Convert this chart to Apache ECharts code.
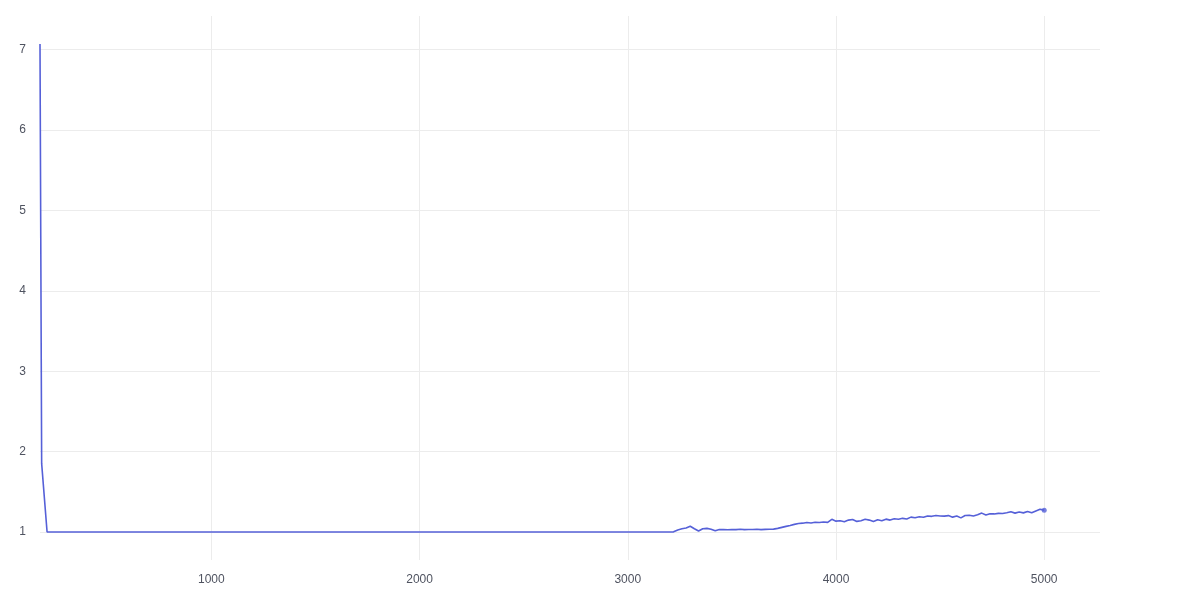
<!DOCTYPE html>
<html>
<head>
<meta charset="utf-8">
<script src="https://cdn.jsdelivr.net/npm/echarts@6/dist/echarts.min.js"></script>
<style>html,body{margin:0;padding:0;background:#fff}#c{width:1200px;height:600px}</style>
</head>
<body>
<div id="c"></div>
<script>
// Tick labels
var xTicks = [1000, 2000, 3000, 4000, 5000];
var yTicks = [1, 2, 3, 4, 5, 6, 7];
// Axis ranges (with padding as in the reference)
var xRange = [177, 5268];
var yRange = [0.652, 7.417];

// Series data
var xs = [177, 185, 211, 3200, 3220, 3240, 3260, 3280, 3300, 3320, 3340, 3360, 3380, 3400, 3420, 3440, 3460, 3480, 3500,
  3520, 3540, 3560, 3580, 3600, 3620, 3640, 3660, 3680, 3700, 3720, 3740, 3760, 3780, 3800, 3820, 3840, 3860, 3880, 3900,
  3920, 3940, 3960, 3980, 4000, 4020, 4040, 4060, 4080, 4100, 4120, 4140, 4160, 4180, 4200, 4220, 4240, 4260, 4280, 4300,
  4320, 4340, 4360, 4380, 4400, 4420, 4440, 4460, 4480, 4500, 4520, 4540, 4560, 4580, 4600, 4620, 4640, 4660, 4680, 4700,
  4720, 4740, 4760, 4780, 4800, 4820, 4840, 4860, 4880, 4900, 4920, 4940, 4960, 4980, 5000];
var ys = [7.07, 1.85, 1.0, 1.000, 1.002, 1.025, 1.040, 1.050, 1.072, 1.040, 1.012, 1.040, 1.045, 1.035, 1.015, 1.032, 1.030, 1.028, 1.032,
  1.030, 1.034, 1.030, 1.032, 1.031, 1.034, 1.030, 1.033, 1.035, 1.036, 1.045, 1.058, 1.070, 1.082, 1.095, 1.105, 1.110, 1.118, 1.112, 1.122,
  1.118, 1.125, 1.120, 1.158, 1.135, 1.140, 1.128, 1.148, 1.155, 1.132, 1.140, 1.158, 1.148, 1.130, 1.152, 1.140, 1.160, 1.148, 1.165, 1.158,
  1.170, 1.162, 1.185, 1.178, 1.190, 1.183, 1.200, 1.195, 1.205, 1.200, 1.198, 1.204, 1.185, 1.198, 1.176, 1.205, 1.208, 1.200, 1.215, 1.235,
  1.212, 1.228, 1.225, 1.232, 1.230, 1.240, 1.252, 1.235, 1.248, 1.238, 1.255, 1.240, 1.262, 1.282, 1.272];

var data = xs.map(function (x, i) { return [x, ys[i]]; });
var last = [data[data.length - 1]];

// Plot area geometry
var L = 40, R = 1100, T = 16, B = 560, W = 1200, H = 600;
function px(v) { return L + (v - xRange[0]) / (xRange[1] - xRange[0]) * (R - L); }
function py(v) { return T + (yRange[1] - v) / (yRange[1] - yRange[0]) * (B - T); }

var gridColor = '#ececec';
var labelStyle = { color: '#4f5360', fontSize: 12, fontFamily: 'Liberation Sans, Arial, sans-serif',
  formatter: function (v) { return String(v); } };

var chart = echarts.init(document.getElementById('c'), null, { renderer: 'canvas' });
chart.setOption({
  animation: false,
  backgroundColor: '#fff',
  grid: [
    { left: L, right: W - R, top: T, bottom: H - B },
    { left: px(xTicks[0]), right: W - px(xTicks[xTicks.length - 1]), top: T, bottom: H - B },
    { left: L, right: W - R, top: py(yTicks[yTicks.length - 1]), bottom: H - py(yTicks[0]) }
  ],
  xAxis: [
    { gridIndex: 0, type: 'value', min: xRange[0], max: xRange[1], show: false },
    { gridIndex: 1, type: 'value', min: xTicks[0], max: xTicks[xTicks.length - 1], interval: 1000,
      axisLine: { show: false }, axisTick: { show: false },
      axisLabel: Object.assign({ margin: 14 }, labelStyle),
      splitLine: { show: true, lineStyle: { color: gridColor, width: 1 } } },
    { gridIndex: 2, type: 'value', min: 0, max: 1, show: false }
  ],
  yAxis: [
    { gridIndex: 0, type: 'value', min: yRange[0], max: yRange[1], show: false },
    { gridIndex: 1, type: 'value', min: 0, max: 1, show: false },
    { gridIndex: 2, type: 'value', min: yTicks[0], max: yTicks[yTicks.length - 1], interval: 1,
      axisLine: { show: false }, axisTick: { show: false },
      axisLabel: Object.assign({ margin: 14 }, labelStyle),
      splitLine: { show: true, lineStyle: { color: gridColor, width: 1 } } }
  ],
  series: [
    { type: 'line', xAxisIndex: 0, yAxisIndex: 0, data: data, showSymbol: false,
      lineStyle: { color: '#5560d8', width: 1.6 }, itemStyle: { color: '#5560d8' }, silent: true },
    { type: 'scatter', xAxisIndex: 0, yAxisIndex: 0, data: last, symbolSize: 5,
      itemStyle: { color: '#5560d8' }, silent: true }
  ]
});
</script>
</body>
</html>
